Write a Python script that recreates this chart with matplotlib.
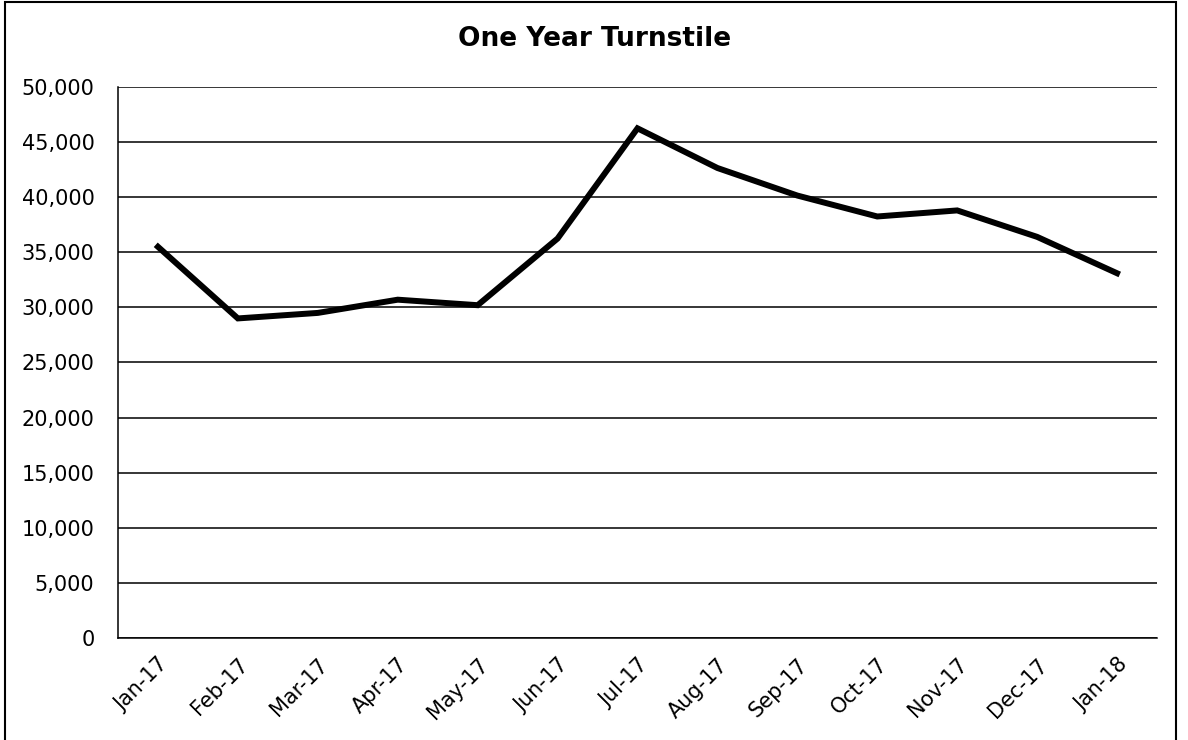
import matplotlib.pyplot as plt
from matplotlib.patches import Rectangle
from matplotlib.ticker import FuncFormatter, MultipleLocator
from matplotlib.transforms import ScaledTranslation

# data
months = ['Jan-17', 'Feb-17', 'Mar-17', 'Apr-17', 'May-17', 'Jun-17', 'Jul-17',
          'Aug-17', 'Sep-17', 'Oct-17', 'Nov-17', 'Dec-17', 'Jan-18']
turnstile = [35500, 29000, 29500, 30700, 30200, 36250, 46250,
             42650, 40150, 38250, 38800, 36400, 33100]

plt.rcParams['font.family'] = ['DejaVu Sans']

fig = plt.figure(figsize=(11.88, 7.4), dpi=100)
ax = fig.add_axes([118 / 1188, 102 / 740, (1157 - 118) / 1188, (638 - 87) / 740])

x = list(range(len(months)))
ax.plot(x, turnstile, color='black', linewidth=4.3, solid_joinstyle='miter')

ax.set_xlim(-0.5, len(months) - 0.5)
ax.set_ylim(0, 50000)
ax.yaxis.set_major_locator(MultipleLocator(5000))
ax.yaxis.set_major_formatter(FuncFormatter(lambda v, p: '{:,.0f}'.format(v)))
ax.set_xticks(x)
ax.set_xticklabels(months, rotation=45, ha='right', rotation_mode='anchor')

# nudge the slanted labels a little left and down
shift = ScaledTranslation(-8 / 100, -3 / 100, fig.dpi_scale_trans)
for lab in ax.get_xticklabels():
    lab.set_transform(lab.get_transform() + shift)

ax.grid(axis='y', color='black', linewidth=1.1)
ax.set_axisbelow(True)
for s in ['top', 'right']:
    ax.spines[s].set_visible(False)
ax.spines['left'].set_linewidth(1.1)
ax.spines['bottom'].set_linewidth(1.1)
ax.tick_params(axis='both', length=0, labelsize=15, colors='black')
ax.tick_params(axis='y', pad=17)
ax.tick_params(axis='x', pad=12)

fig.text(595 / 1188, 1 - 39 / 740, 'One Year Turnstile', ha='center', va='center',
         fontsize=19, fontweight='bold')

# outer frame of the chart area
fig.patches.append(Rectangle((5 / 1188, -0.05), (1176 - 5) / 1188, 1.05 - 2 / 740,
                             transform=fig.transFigure, fill=False,
                             edgecolor='black', linewidth=1.5))

fig.savefig('out.png', dpi=100)
